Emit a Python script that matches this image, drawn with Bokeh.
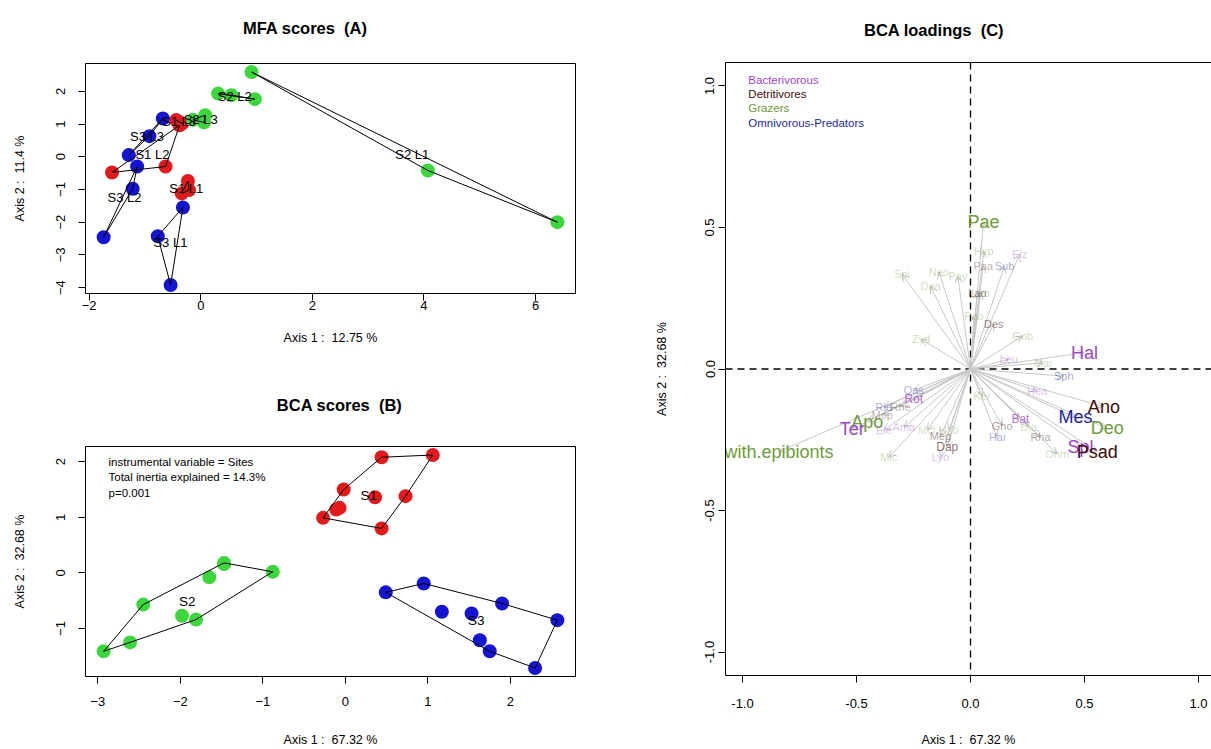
import numpy as np
from bokeh.plotting import figure
from bokeh.layouts import row, column
from bokeh.models import (FixedTicker, NumeralTickFormatter, Span, Arrow, OpenHead,
                          ColumnDataSource, LinearAxis, Range1d)
from bokeh.embed import file_html
from bokeh.resources import INLINE
from bokeh.core.properties import value

FONT = "Liberation Sans"
SP = "\u00a0"

# ---------------- Panel A : MFA scores ----------------
mfa_group = (["S1 L1"] * 3 + ["S1 L2"] * 3 + ["S1 L3"] * 3 +
             ["S2 L1"] * 3 + ["S2 L2"] * 3 + ["S2 L3"] * 3 +
             ["S3 L1"] * 3 + ["S3 L2"] * 3 + ["S3 L3"] * 3)
mfa_x = [-0.23, -0.34, -0.21, -1.59, -0.63, -0.38, -0.44, -0.33, -0.40,
         0.91, 4.07, 6.39, 0.31, 0.55, 0.97, 0.08, -0.14, 0.06,
         -0.32, -0.77, -0.54, -1.14, -1.22, -1.74, -0.68, -0.92, -1.29]
mfa_y = [-0.74, -1.12, -1.02, -0.48, -0.30, 0.96, 1.12, 1.02, 1.08,
         2.59, -0.42, -2.00, 1.93, 1.88, 1.76, 1.27, 1.13, 1.05,
         -1.55, -2.43, -3.92, -0.30, -0.98, -2.46, 1.17, 0.63, 0.05]
mfa_xticks = [-2, 0, 2, 4, 6]
mfa_yticks = [-4, -3, -2, -1, 0, 1, 2]

# ---------------- Panel B : BCA scores ----------------
bca_site = ["S1"] * 9 + ["S2"] * 9 + ["S3"] * 9
bca_x = [0.44, 1.06, -0.02, 0.36, 0.73, -0.11, -0.07, -0.27, 0.44,
         -2.93, -2.61, -2.45, -1.98, -1.81, -1.65, -1.47, -0.88, -1.47,
         0.49, 0.95, 1.90, 2.57, 1.17, 1.53, 1.63, 1.75, 2.30]
bca_y = [2.08, 2.12, 1.50, 1.36, 1.38, 1.14, 1.17, 0.99, 0.80,
         -1.41, -1.25, -0.57, -0.77, -0.84, -0.08, 0.18, 0.02, 0.16,
         -0.35, -0.19, -0.55, -0.85, -0.70, -0.73, -1.21, -1.41, -1.71]
bca_xticks = [-3, -2, -1, 0, 1, 2]
bca_yticks = [-1, 0, 1, 2]
bca_notes = ["instrumental variable = Sites", "Total inertia explained = 14.3%", "p=0.001"]

# ---------------- Panel C : BCA loadings ----------------
load_name = ["Pae", "Apo", "Deo", "with.epibionts", "Hyp", "Spi", "Neo", "Pay", "Dea", "Leo",
             "Pao", "Gob", "Zyd", "Mar", "Ker", "Dia", "Ohm", "Mcr", "Hab", "Mic",
             "Hal", "Ter", "Spl", "Elz", "Leu", "Hea", "Bat", "Ele", "Ama", "Lyo", "Rot",
             "Ano", "Psad", "Paa", "Lao", "Des", "Gho", "Rha", "Rhe", "Mop", "Meg", "Dap",
             "Mes", "Sub", "Sph", "Hai", "Oas", "Rid"]
load_group = (["Grazers"] * 20 + ["Bacterivorous"] * 11 + ["Detritivores"] * 11 +
              ["Omnivorous-Predators"] * 6)
load_x = [0.057, -0.453, 0.600, -0.840, 0.058, -0.300, -0.139, -0.056, -0.175, 0.045,
          0.015, 0.229, -0.216, 0.319, 0.051, 0.256, 0.380, -0.190, -0.095, -0.358,
          0.500, -0.519, 0.482, 0.216, 0.168, 0.292, 0.219, -0.380, -0.292, -0.132, -0.249,
          0.585, 0.556, 0.056, 0.030, 0.102, 0.139, 0.307, -0.307, -0.387, -0.132, -0.102,
          0.460, 0.149, 0.409, 0.117, -0.249, -0.380]
load_y = [0.520, -0.186, -0.210, -0.292, 0.418, 0.336, 0.344, 0.329, 0.293, 0.270,
          0.187, 0.117, 0.105, 0.022, -0.095, -0.204, -0.300, -0.216, -0.216, -0.312,
          0.058, -0.213, -0.274, 0.406, 0.034, -0.077, -0.178, -0.216, -0.206, -0.312, -0.107,
          -0.133, -0.292, 0.365, 0.270, 0.158, -0.201, -0.241, -0.133, -0.163, -0.237, -0.277,
          -0.171, 0.365, -0.025, -0.241, -0.074, -0.135]
load_size = [18, 18, 18, 18, 11, 11, 11, 11, 11, 11,
             11, 11, 11, 11, 11, 11, 11, 11, 11, 11,
             18, 18, 18, 11, 11, 11, 12, 11, 11, 11, 12,
             18, 18, 11, 11, 11, 11, 11, 11, 11, 11, 12,
             18, 11, 11, 11, 11, 11]
load_alpha = [1, 1, 1, 1, 0.35, 0.35, 0.35, 0.35, 0.35, 0.4,
              0.35, 0.35, 0.35, 0.35, 0.35, 0.35, 0.35, 0.3, 0.3, 0.35,
              1, 1, 1, 0.35, 0.35, 0.35, 0.75, 0.35, 0.35, 0.4, 0.8,
              1, 1, 0.35, 0.5, 0.5, 0.4, 0.4, 0.35, 0.35, 0.45, 0.6,
              1, 0.4, 0.45, 0.4, 0.4, 0.4]
guild_names = ["Bacterivorous", "Detritivores", "Grazers", "Omnivorous-Predators"]
guild_colors = ["#9B45C9", "#3D0B0B", "#6E9A3A", "#1F1FA3"]
load_ticks = [-1.0, -0.5, 0.0, 0.5, 1.0]

site_colors = {"S1": "#E31A1C", "S2": "#3CD73C", "S3": "#1414D2"}


def hull(xs, ys):
    pts = sorted(set(zip(xs, ys)))
    if len(pts) <= 2:
        return pts

    def cross(o, a, b):
        return (a[0] - o[0]) * (b[1] - o[1]) - (a[1] - o[1]) * (b[0] - o[0])
    lower, upper = [], []
    for pt in pts:
        while len(lower) >= 2 and cross(lower[-2], lower[-1], pt) <= 0:
            lower.pop()
        lower.append(pt)
    for pt in reversed(pts):
        while len(upper) >= 2 and cross(upper[-2], upper[-1], pt) <= 0:
            upper.pop()
        upper.append(pt)
    return lower[:-1] + upper[:-1]


def padded(vals, frac=0.04):
    lo, hi = min(vals), max(vals)
    d = (hi - lo) * frac
    return lo - d, hi + d


def make_fig(width, height, xr, yr, borders):
    p = figure(width=width, height=height, x_range=Range1d(*xr), y_range=Range1d(*yr),
               output_backend="svg", toolbar_location=None,
               min_border_left=borders[0], min_border_right=borders[1],
               min_border_top=borders[2], min_border_bottom=borders[3])
    p.grid.visible = False
    p.outline_line_color = "black"
    p.outline_line_alpha = 1
    p.outline_line_width = 1
    p.background_fill_color = "white"
    p.border_fill_color = "white"
    return p


def add_title(p, text, standoff, line_color=None):
    ax = LinearAxis(ticker=FixedTicker(ticks=[]), axis_label=text,
                    axis_line_color=line_color, major_tick_in=0, major_tick_out=0,
                    major_tick_line_color=None, minor_tick_line_color=None,
                    major_label_standoff=0, major_label_text_font_size="0px",
                    axis_label_standoff=standoff, axis_label_text_font=FONT,
                    axis_label_text_font_size="16.5px", axis_label_text_font_style="bold",
                    axis_label_text_color="black")
    p.add_layout(ax, "above")


def style_axes(p, xticks, yticks, xlabel, ylabel, xs, xls, ys, yls, fmt=None):
    for ax in p.axis:
        ax.major_tick_in = 0
        ax.major_tick_out = 7
        ax.major_tick_line_color = "black"
        ax.minor_tick_line_color = None
        ax.axis_line_color = None
        ax.major_label_text_font = FONT
        ax.major_label_text_font_size = "13px"
        ax.major_label_text_color = "black"
        ax.axis_label_text_font = FONT
        ax.axis_label_text_font_size = "12.5px"
        ax.axis_label_text_font_style = "normal"
        ax.axis_label_text_color = "black"
        if fmt is not None:
            ax.formatter = NumeralTickFormatter(format=fmt)
    p.xaxis.ticker = FixedTicker(ticks=xticks)
    p.yaxis.ticker = FixedTicker(ticks=yticks)
    p.xaxis.axis_label = xlabel
    p.yaxis.axis_label = ylabel
    p.xaxis.major_label_standoff = xs
    p.xaxis.axis_label_standoff = xls
    p.yaxis.major_label_standoff = ys
    p.yaxis.axis_label_standoff = yls
    p.yaxis.major_label_orientation = "vertical"


# ---------- Figure A ----------
pa = make_fig(600, 370, padded(mfa_x), padded(mfa_y), (85, 25, 63, 77))
style_axes(pa, mfa_xticks, mfa_yticks, f"Axis 1 :{SP} 12.75 %", f"Axis 2 :{SP} 11.4 %",
           0, 18, 13, 27)
add_title(pa, f"MFA scores{SP} (A)" + SP * 11, 27)
groups_a = list(dict.fromkeys(mfa_group))
pa.scatter(mfa_x, mfa_y, size=14, line_color=None,
           fill_color=[site_colors[g.split()[0]] for g in mfa_group])
hx, hy, cx, cy = [], [], [], []
for g in groups_a:
    idx = [i for i, gg in enumerate(mfa_group) if gg == g]
    xs = [mfa_x[i] for i in idx]
    ys = [mfa_y[i] for i in idx]
    h = hull(xs, ys)
    hx.append([q[0] for q in h])
    hy.append([q[1] for q in h])
    cx.append(float(np.mean(xs)))
    cy.append(float(np.mean(ys)))
pa.patches(hx, hy, fill_color=None, line_color="black", line_width=1)
pa.text(cx, cy, text=groups_a, text_font=value(FONT), text_font_size="13px",
        text_align="center", text_baseline="middle", text_color="black")

# ---------- Figure B ----------
bxr, byr = padded(bca_x), padded(bca_y)
pb = make_fig(600, 379, bxr, byr, (85, 25, 76, 73))
style_axes(pb, bca_xticks, bca_yticks, f"Axis 1 :{SP} 67.32 %", f"Axis 2 :{SP} 32.68 %",
           13, 24, 13, 27)
add_title(pb, SP * 4 + f"BCA scores{SP} (B)", 33)
pb.scatter(bca_x, bca_y, size=14, line_color=None,
           fill_color=[site_colors[s] for s in bca_site])
sites = list(dict.fromkeys(bca_site))
hx, hy, cx, cy = [], [], [], []
for s in sites:
    idx = [i for i, ss in enumerate(bca_site) if ss == s]
    xs = [bca_x[i] for i in idx]
    ys = [bca_y[i] for i in idx]
    h = hull(xs, ys)
    hx.append([q[0] for q in h])
    hy.append([q[1] for q in h])
    cx.append(float(np.mean(xs)))
    cy.append(float(np.mean(ys)))
pb.patches(hx, hy, fill_color=None, line_color="black", line_width=1)
pb.text(cx, cy, text=sites, text_font=value(FONT), text_font_size="13.5px",
        text_align="center", text_baseline="middle", text_color="black")
bw, bh = bxr[1] - bxr[0], byr[1] - byr[0]
pb.text([bxr[0] + 0.047 * bw] * 3, [byr[1] - (0.068 + 0.066 * i) * bh for i in range(3)],
        text=bca_notes, text_font=value(FONT), text_font_size="11.5px",
        text_align="left", text_baseline="middle", text_color="black")

# ---------- Figure C ----------
cxr, cyr = (-1.0746, 1.057), (-1.083, 1.083)
pc = make_fig(611, 749, cxr, cyr, (125, 0, 62, 74))
pc.outline_line_color = None
style_axes(pc, load_ticks, load_ticks, f"Axis 1 :{SP} 67.32 %", f"Axis 2 :{SP} 32.68 %",
           16, 22, 4, 34, fmt="0.0")
pc.xaxis.axis_line_color = "black"
pc.yaxis.axis_line_color = "black"
add_title(pc, f"BCA loadings{SP} (C)" + SP * 15, 24, line_color="black")

pc.add_layout(Span(location=0, dimension="height", line_color="black", line_width=1.3,
                   line_dash="7 5", level="underlay"))
pc.add_layout(Span(location=0, dimension="width", line_color="black", line_width=1.3,
                   line_dash="7 5", level="underlay"))

n = len(load_x)
arr_src = ColumnDataSource(dict(x0=[0.0] * n, y0=[0.0] * n, x1=load_x, y1=load_y))
pc.add_layout(Arrow(end=OpenHead(size=7, line_color="#C8C8C8", line_width=1),
                    x_start="x0", y_start="y0", x_end="x1", y_end="y1", source=arr_src,
                    line_color="#C8C8C8", line_width=1, level="underlay"))
gcol = dict(zip(guild_names, guild_colors))
lab_src = ColumnDataSource(dict(x=load_x, y=load_y, t=load_name,
                                c=[gcol[g] for g in load_group],
                                a=load_alpha, s=[f"{v}px" for v in load_size]))
pc.text("x", "y", text="t", source=lab_src, text_font=value(FONT), text_font_size="s",
        text_color="c", text_alpha="a", text_align="center", text_baseline="middle")
cw, ch = cxr[1] - cxr[0], cyr[1] - cyr[0]
pc.text([cxr[0] + 0.047 * cw] * 4, [cyr[1] - (0.028 + 0.0235 * i) * ch for i in range(4)],
        text=guild_names, text_font=value(FONT), text_font_size="11.5px",
        text_color=guild_colors, text_align="left", text_baseline="middle")

layout = row(column(pa, pb, spacing=0), pc, spacing=0)
open("out.html", "w").write(file_html(layout, INLINE))
